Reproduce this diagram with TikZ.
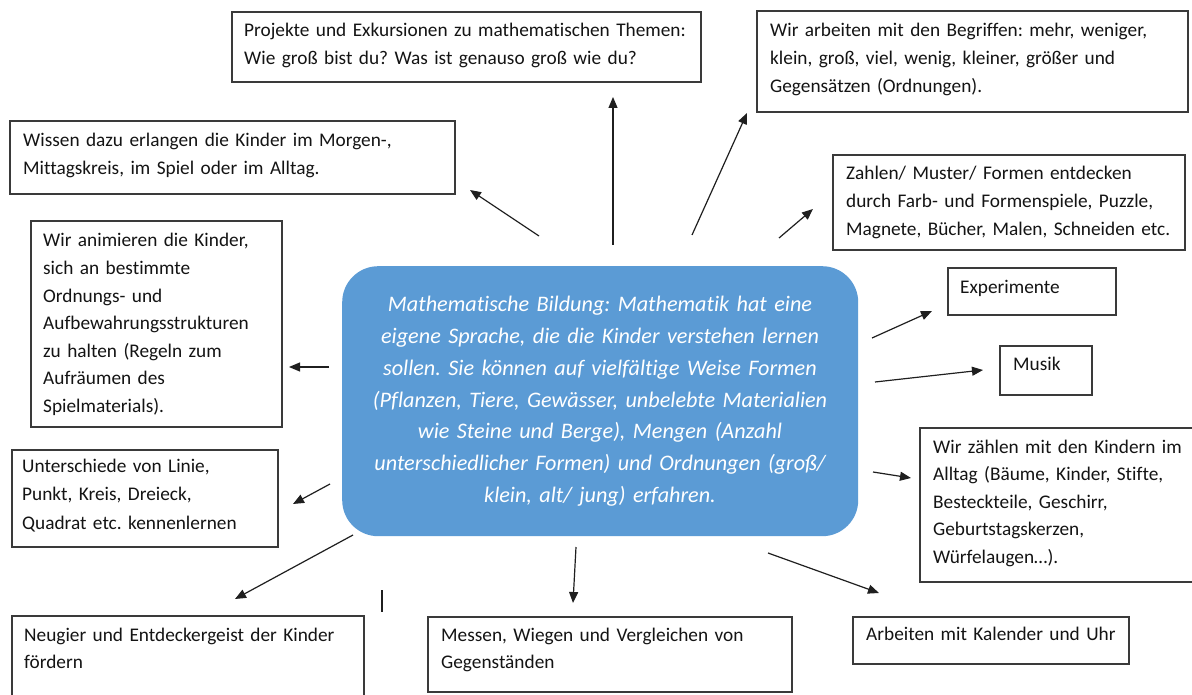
\documentclass[tikz,border=0pt]{standalone}
\usepackage{fontspec}
\setmainfont[Ligatures=NoCommon]{Carlito}
\usetikzlibrary{arrows.meta}
\definecolor{mathblue}{HTML}{5B9BD5}
\definecolor{boxline}{HTML}{3A3A3A}
\frenchspacing
\begin{document}
\begin{tikzpicture}[x=1pt,y=-1pt,
  box/.style={draw=boxline, line width=1.1pt, fill=white, inner sep=0pt, outer sep=0pt, anchor=north west},
  txt/.style={anchor=base west, inner sep=0pt, text width=600pt, align=left,
    font=\frenchspacing\fontsize{19.3}{27.6}\selectfont, text=black!92},
  arr/.style={draw=black!88, line width=1.2pt, -{Triangle[length=11pt,width=9pt]}},
  mathbox/.style={fill=mathblue, rounded corners=36pt, inner sep=0pt, anchor=north west},
  mathtxt/.style={anchor=base, inner sep=0pt, text width=540pt, align=center,
    font=\frenchspacing\itshape\fontsize{22.2}{31.7}\selectfont, text=white},
]
\useasboundingbox (0,0) rectangle (1192,695);
\clip (0,0) rectangle (1192,695);
\fill[white] (0,0) rectangle (1192,695);

% central node
\node[mathbox, minimum width=516pt, minimum height=270pt] (math) at (342,266) {};
\node[mathtxt] (mathtext) at (600,312) {Mathematische Bildung: Mathematik hat eine\\
eigene Sprache, die die Kinder verstehen lernen\\
sollen. Sie können auf vielfältige Weise Formen\\
(Pflanzen, Tiere, Gewässer, unbelebte Materialien\\
wie Steine und Berge), Mengen (Anzahl\\
unterschiedlicher Formen) und Ordnungen (groß/\\
klein, alt/ jung) erfahren.};

% boxes
\node[box, minimum width=469pt, minimum height=70pt] (projekte) at (232,12) {};
\node[txt] (projektet) at (244,37) {Projekte und Exkursionen zu mathematischen Themen:\\Wie groß bist du? Was ist genauso groß wie du?};

\node[box, minimum width=431pt, minimum height=101pt] (begriffe) at (757,11) {};
\node[txt] (begriffet) at (770,37) {Wir arbeiten mit den Begriffen: mehr, weniger,\\klein, groß, viel, wenig, kleiner, größer und\\Gegensätzen (Ordnungen).};

\node[box, minimum width=445pt, minimum height=73pt] (wissen) at (10,121) {};
\node[txt] (wissent) at (23,147) {Wissen dazu erlangen die Kinder im Morgen-,\\Mittagskreis, im Spiel oder im Alltag.};

\node[box, minimum width=352pt, minimum height=95pt] (zahlen) at (833,155) {};
\node[txt] (zahlent) at (846,180) {Zahlen/ Muster/ Formen entdecken\\durch Farb- und Formenspiele, Puzzle,\\Magnete, Bücher, Malen, Schneiden etc.};

\node[box, minimum width=251pt, minimum height=206pt] (animieren) at (31,221) {};
\node[txt] (animierent) at (43,247) {Wir animieren die Kinder,\\sich an bestimmte\\Ordnungs- und\\Aufbewahrungsstrukturen\\zu halten (Regeln zum\\Aufräumen des\\Spielmaterials).};

\node[box, minimum width=168pt, minimum height=47pt] (experimente) at (948,268) {};
\node[txt] (experimentet) at (960,294) {Experimente};

\node[box, minimum width=92pt, minimum height=49pt] (musik) at (1000,346) {};
\node[txt] (musikt) at (1013,370) {Musik};

\node[box, minimum width=266pt, minimum height=97pt] (unterschiede) at (12,450) {};
\node[txt, font=\frenchspacing\fontsize{19.3}{28.5}\selectfont] (unterschiedet) at (22,472) {Unterschiede von Linie,\\Punkt, Kreis, Dreieck,\\Quadrat etc. kennenlernen};

\node[box, minimum width=300pt, minimum height=154pt] (zaehlen) at (920,428) {};
\node[txt] (zaehlent) at (933,453) {Wir zählen mit den Kindern im\\Alltag (Bäume, Kinder, Stifte,\\Besteckteile, Geschirr,\\Geburtstagskerzen,\\Würfelaugen…).};

\node[box, minimum width=352pt, minimum height=100pt] (neugier) at (12,616) {};
\node[txt] (neugiert) at (24,641) {Neugier und Entdeckergeist der Kinder\\fördern};

\node[box, minimum width=364pt, minimum height=75pt] (messen) at (428,617) {};
\node[txt] (messent) at (441,641) {Messen, Wiegen und Vergleichen von\\Gegenständen};

\node[box, minimum width=276pt, minimum height=47pt] (kalender) at (853,617) {};
\node[txt] (kalendert) at (866,640) {Arbeiten mit Kalender und Uhr};

% connector end points
\coordinate (s1) at (539,236); \coordinate (e1) at (470,190);
\coordinate (s2) at (613,245); \coordinate (e2) at (613,97);
\coordinate (s3) at (692,235); \coordinate (e3) at (747,113);
\coordinate (s4) at (779,238); \coordinate (e4) at (813,209);
\coordinate (s5) at (872,338); \coordinate (e5) at (932,311);
\coordinate (s6) at (875,382); \coordinate (e6) at (983,370);
\coordinate (s7) at (873,472); \coordinate (e7) at (911,478);
\coordinate (s8) at (768,553); \coordinate (e8) at (879,593);
\coordinate (s9) at (576,547); \coordinate (e9) at (573,603);
\coordinate (s10) at (353,535); \coordinate (e10) at (235,599);
\coordinate (s11) at (330,484); \coordinate (e11) at (293,504);
\coordinate (s12) at (329,367); \coordinate (e12) at (289,367);
\coordinate (t1) at (382,590); \coordinate (t2) at (382,612);

\draw[arr] (s1) -- (e1);
\draw[arr] (s2) -- (e2);
\draw[arr] (s3) -- (e3);
\draw[arr] (s4) -- (e4);
\draw[arr] (s5) -- (e5);
\draw[arr] (s6) -- (e6);
\draw[arr] (s7) -- (e7);
\draw[arr] (s8) -- (e8);
\draw[arr] (s9) -- (e9);
\draw[arr] (s10) -- (e10);
\draw[arr] (s11) -- (e11);
\draw[arr] (s12) -- (e12);
\draw[line width=1.1pt, draw=black!88] (t1) -- (t2);
\end{tikzpicture}
\end{document}
